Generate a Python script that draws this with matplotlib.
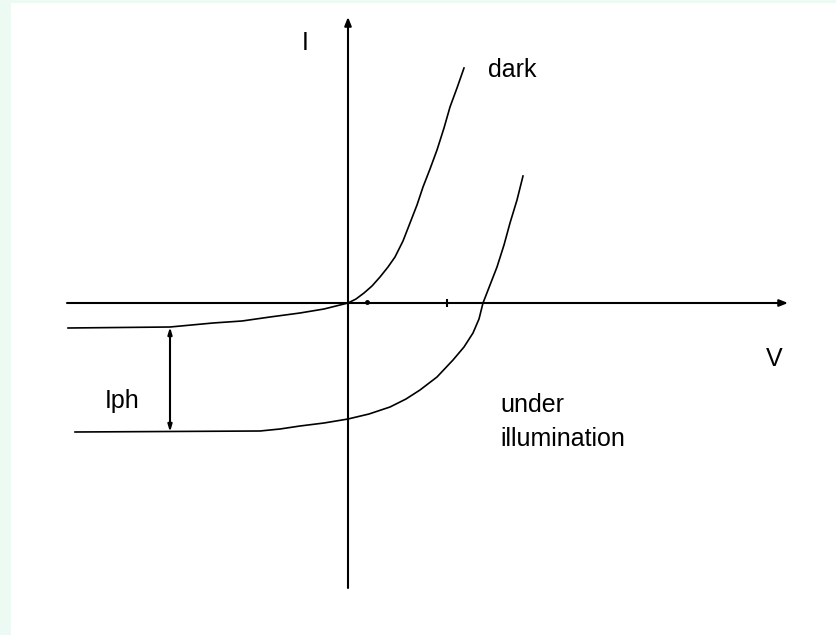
import matplotlib
matplotlib.use("Agg")
import matplotlib.pyplot as plt

# ---- data (V, I in arbitrary units; origin at the axes crossing) ----
dark_v = [-2.80, -1.78, -1.35, -1.06, -0.78, -0.48, -0.24, 0.00, 0.08, 0.16, 0.24, 0.32,
          0.40, 0.47, 0.55, 0.62, 0.69, 0.75, 0.82, 0.89, 0.96, 1.02, 1.09, 1.16]
dark_i = [-0.25, -0.24, -0.20, -0.18, -0.14, -0.10, -0.06, 0.00, 0.04, 0.10, 0.17, 0.26,
          0.36, 0.46, 0.62, 0.80, 0.98, 1.16, 1.34, 1.53, 1.75, 1.96, 2.15, 2.35]

illum_v = [-2.73, -0.88, -0.68, -0.48, -0.24, 0.00, 0.21, 0.42, 0.58, 0.72, 0.89, 1.05,
           1.16, 1.25, 1.31, 1.35, 1.42, 1.49, 1.56, 1.62, 1.69, 1.75]
illum_i = [-1.29, -1.28, -1.26, -1.23, -1.20, -1.16, -1.11, -1.04, -0.96, -0.87, -0.74, -0.57,
           -0.44, -0.30, -0.16, 0.00, 0.18, 0.36, 0.58, 0.80, 1.03, 1.27]

iph_v = -1.78
iph_top, iph_bottom = -0.24, -1.29

axis_v_range = (-2.81, 4.40)
axis_i_range = (-2.85, 2.86)
axis_marks = [0.19, 0.99]

labels = {
    "I": (-0.46, 2.53),
    "dark": (1.40, 2.26),
    "V": (4.18, -0.63),
    "Iph": (-2.43, -1.05),
    "under": (1.52, -1.09),
    "illumination": (1.52, -1.43),
}

W, H = 836, 635
fig = plt.figure(figsize=(W / 100, H / 100), dpi=100, facecolor="#ecfaf3")
ax = fig.add_axes([11 / W, 0, (W - 11) / W, (H - 3) / H], facecolor="white")
ax.set_xlim((11 - 348) / 100, (W - 348) / 100)
ax.set_ylim((303 - H) / 100, (303 - 3) / 100)
ax.set_xticks([])
ax.set_yticks([])
for s in ax.spines.values():
    s.set_visible(False)

# axes with arrows
ax.annotate("", xy=(axis_v_range[1], 0), xytext=(axis_v_range[0], 0),
            arrowprops=dict(arrowstyle="-|>,head_length=0.5,head_width=0.2",
                            lw=1.5, color="black", shrinkA=0, shrinkB=0))
ax.annotate("", xy=(0, axis_i_range[1]), xytext=(0, axis_i_range[0]),
            arrowprops=dict(arrowstyle="-|>,head_length=0.5,head_width=0.2",
                            lw=1.5, color="black", shrinkA=0, shrinkB=0))
ax.plot([axis_marks[1]], [0], marker="|", ms=6, mew=1.5, color="black")
ax.plot([axis_marks[0]], [0.01], marker="o", ms=2.5, color="black")

# curves
ax.plot(dark_v, dark_i, color="black", lw=1.2)
ax.plot(illum_v, illum_i, color="black", lw=1.2)

# Iph double arrow
ax.annotate("", xy=(iph_v, iph_bottom), xytext=(iph_v, iph_top),
            arrowprops=dict(arrowstyle="<|-|>,head_length=0.4,head_width=0.12",
                            lw=1.5, color="black", shrinkA=0, shrinkB=0))

for txt, (x, y) in labels.items():
    ax.text(x, y, txt, fontsize=18, family="Liberation Sans",
            ha="left", va="baseline", color="black")

fig.savefig("out.png", dpi=100, facecolor=fig.get_facecolor())
